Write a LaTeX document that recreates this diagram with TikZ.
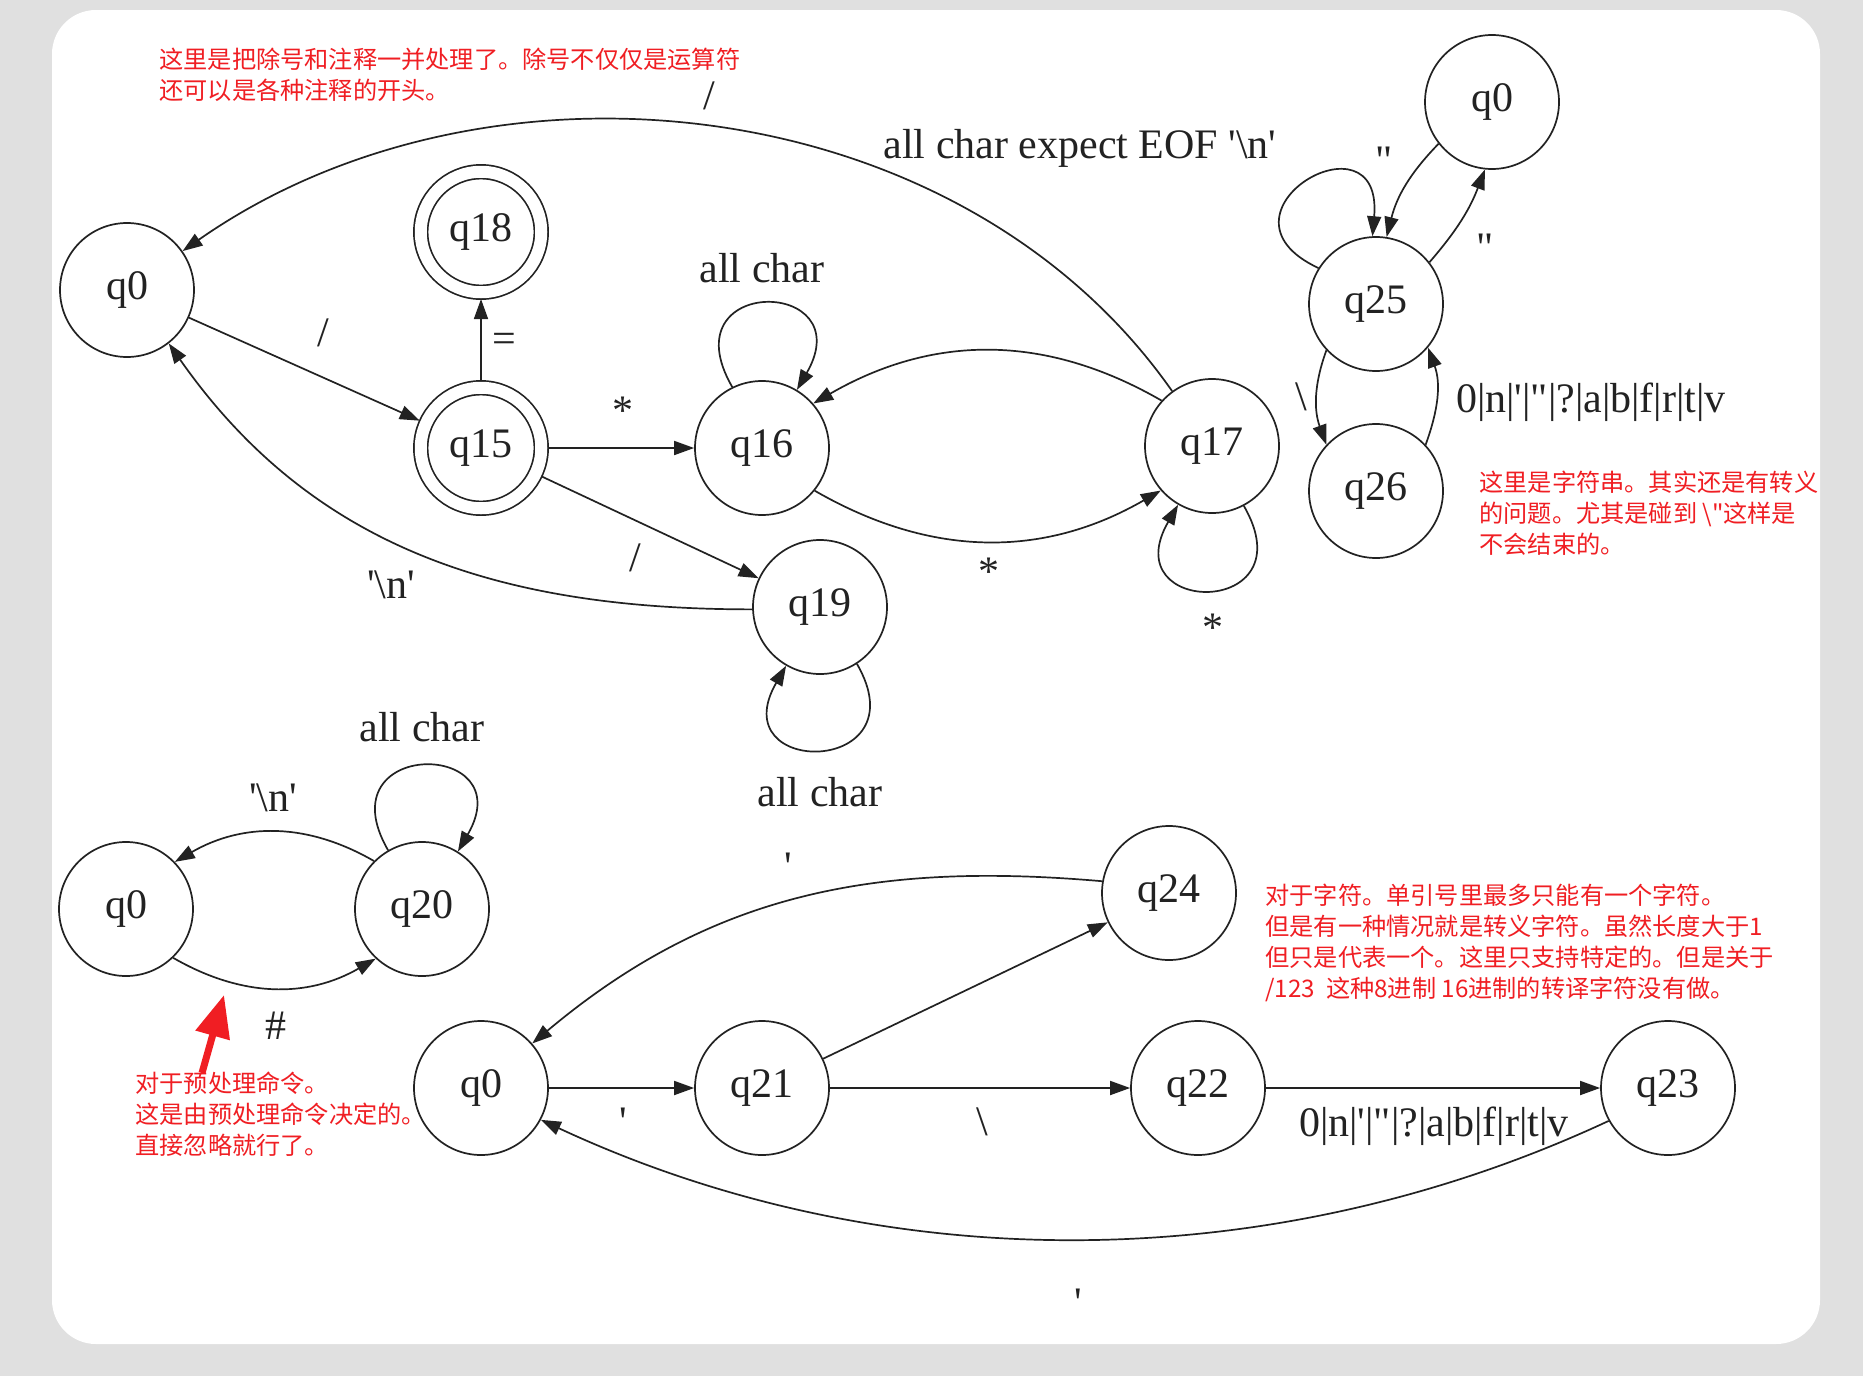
\documentclass[tikz,border=0pt]{standalone}
\usepackage{fontspec}
\newfontfamily\statefont{Liberation Serif}
\newfontfamily\cjk{Noto Sans CJK SC}
\usetikzlibrary{arrows.meta}
\definecolor{notered}{RGB}{240,30,35}
\definecolor{pagegray}{RGB}{224,224,224}
\definecolor{ink}{RGB}{34,34,34}

\begin{document}
\begin{tikzpicture}[x=0.5pt,y=0.5pt]
        \tikzset{
        lex node/.style={circle,draw,line width=0.85pt,minimum size=67pt,inner sep=0,font=\statefont\fontsize{21}{24}\selectfont},
        lex acc/.style={lex node,minimum size=60.25pt,double,double distance=6pt,outer sep=3.4pt},
        lex edge/.style={-{Triangle[length=10pt,width=7pt]},line width=0.85pt},
        lex label/.style={inner sep=0,font=\statefont\fontsize{21}{24}\selectfont},
        lex note/.style={text=notered,inner sep=0,anchor=north west,align=left,font=\cjk\fontsize{12.1}{15.5}\selectfont}
        }
        % page and panel
        \fill[pagegray] (0,0) rectangle (1863,-1376);
        \fill[white,rounded corners=22pt] (52,-10) rectangle (1820,-1344);
        \useasboundingbox (0,0) rectangle (1863,-1376);

        \begin{scope}[color=ink]
        % division and comments
        \node[lex node] (q0a) at (127,-290) {q0};
        \node[lex acc] (q18) at (481,-232) {q18};
        \node[lex acc] (q15) at (481,-448) {q15};
        \node[lex node] (q16) at (762,-448) {q16};
        \node[lex node] (q17) at (1212,-446) {q17};
        \node[lex node] (q19) at (820,-607) {q19};
        % strings
        \node[lex node] (q0b) at (1492,-102) {q0};
        \node[lex node] (q25) at (1376,-304) {q25};
        \node[lex node] (q26) at (1376,-491) {q26};
        % preprocessor
        \node[lex node] (q0c) at (126,-909) {q0};
        \node[lex node] (q20) at (422,-909) {q20};
        % chars
        \node[lex node] (q0d) at (481,-1088) {q0};
        \node[lex node] (q21) at (762,-1088) {q21};
        \node[lex node] (q24) at (1169,-893) {q24};
        \node[lex node] (q22) at (1198,-1088) {q22};
        \node[lex node] (q23) at (1668,-1088) {q23};

        \path[lex edge]
        (q0a) edge (q15)
        (q15) edge (q18)
        (q15) edge (q16)
        (q15) edge (q19)
        (q19.182) edge[out=180,in=-55] (q0a.-52)
        (q16.116) edge[out=120,in=60,distance=65pt] (q16.59)
        (q16.-39) edge[out=-30,in=-150] (q17.-139)
        (q17.138) edge[out=150,in=30] (q16.41)
        (q17.-62) edge[out=-60,in=-120,distance=65pt] (q17.-120)
        (q17.126) edge[out=125,in=35,looseness=0.95] (q0a.35)
        (q19.-57) edge[out=-60,in=-120,distance=65pt] (q19.-120)
        (q0b.218) edge[bend right=15] (q25.81)
        (q25.38) edge[bend right=10] (q0b.-96)
        (q25.148) edge[out=155,in=85,distance=65pt] (q25.93)
        (q25.223) edge[out=250,in=110] (q26.137)
        (q26.43) edge[out=70,in=-70] (q25.-40)
        (q20.135) edge[out=150,in=30] (q0c.44)
        (q0c.-46) edge[out=-30,in=-150] (q20.-133)
        (q20.120) edge[out=120,in=60,distance=65pt] (q20.58)
        (q0d) edge (q21)
        (q21) edge (q24)
        (q21) edge (q22)
        (q22) edge (q23)
        (q24.170) edge[out=175,in=40] (q0d.41)
        (q23.209) edge[out=205,in=-25,looseness=0.9] (q0d.-28)
        ;

        % edge labels
        \node[lex label] (l1) at (323,-333) {/};
        \node[lex label] (l2) at (504,-343) {=};
        \node[lex label] (l3) at (623,-411) {*};
        \node[lex label] (l4) at (635,-558) {/};
        \node[lex label] (l5) at (391,-585) {'\textbackslash n'};
        \node[lex label] (l6) at (762,-268) {all char};
        \node[lex label] (l7) at (989,-572) {*};
        \node[lex label] (l8) at (1080,-148) {all char expect EOF '\textbackslash n'};
        \node[lex label] (l9) at (709,-96) {/};
        \node[lex label] (l10) at (1213,-628) {*};
        \node[lex label] (l11) at (820,-792) {all char};
        \node[lex label] (l12) at (1384,-161) {"};
        \node[lex label] (l13) at (1485,-248) {"};
        \node[lex label] (l14) at (1301,-397) {\textbackslash};
        \node[lex label] (l15) at (1591,-402) {0|n|'|"|?|a|b|f|r|t|v};
        \node[lex label] (l16) at (273,-798) {'\textbackslash n'};
        \node[lex label] (l17) at (276,-1026) {\#};
        \node[lex label] (l18) at (422,-727) {all char};
        \node[lex label] (l19) at (623,-1122) {'};
        \node[lex label] (l20) at (788,-867) {'};
        \node[lex label] (l21) at (982,-1122) {\textbackslash};
        \node[lex label] (l22) at (1434,-1126) {0|n|'|"|?|a|b|f|r|t|v};
        \node[lex label] (l23) at (1078,-1303) {'};
        \end{scope}

        % notes
        \node[lex note] (n1) at (159,-48) {这里是把除号和注释一并处理了。除号不仅仅是运算符\\还可以是各种注释的开头。};
        \node[lex note] (n2) at (1479,-471) {这里是字符串。其实还是有转义\\的问题。尤其是碰到 \textbackslash"这样是\\不会结束的。};
        \node[lex note] (n3) at (135,-1071) {对于预处理命令。\\这是由预处理命令决定的。\\直接忽略就行了。};
        \node[lex note] (n4) at (1265,-884) {对于字符。单引号里最多只能有一个字符。\\但是有一种情况就是转义字符。虽然长度大于1\\但只是代表一个。这里只支持特定的。但是关于\\/123\ \ 这种8进制 16进制的转译字符没有做。};
        \coordinate (redtail) at (202,-1073);
        \coordinate (redtip) at (224,-995);
        \draw[notered,line width=3.5pt,-{Triangle[length=21pt,width=17pt]}] (redtail) -- (redtip);
\end{tikzpicture}
\end{document}
